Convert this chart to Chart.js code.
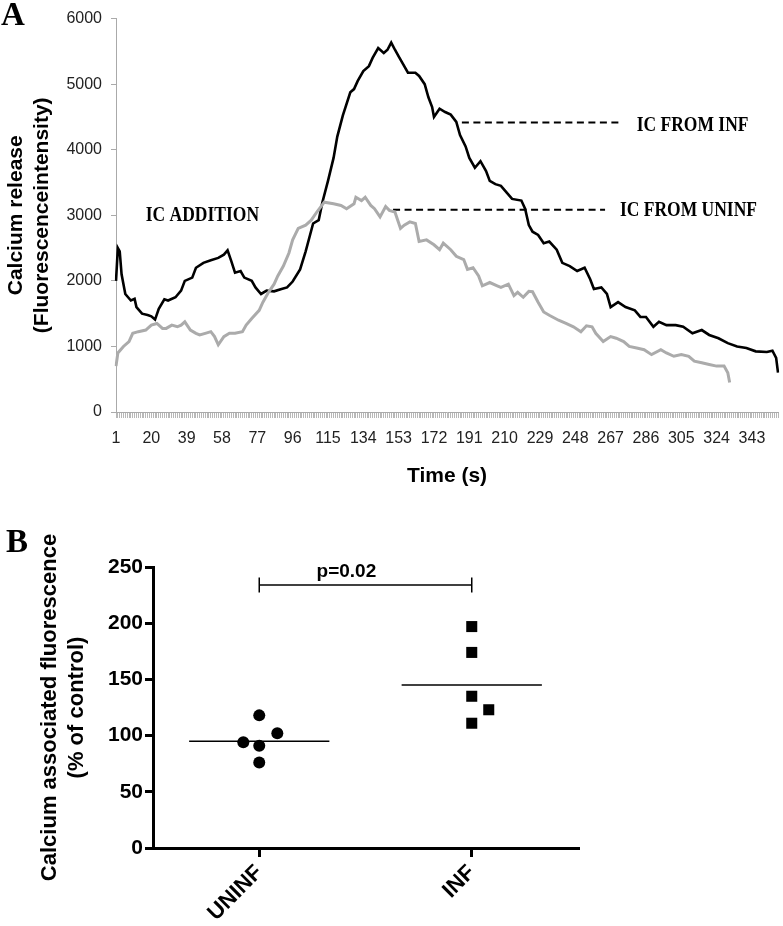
<!DOCTYPE html>
<html><head><meta charset="utf-8">
<script src="https://cdn.jsdelivr.net/npm/chart.js@4.4.1/dist/chart.umd.min.js"></script>
<style>
html,body{margin:0;padding:0;background:#fff;}
#wrap{position:relative;width:783px;height:926px;overflow:hidden;}
#cA{position:absolute;left:0;top:0;}
#cB{position:absolute;left:0;top:490px;}
</style></head><body>
<div id="wrap"><canvas id="cA" width="783" height="490"></canvas><canvas id="cB" width="783" height="436"></canvas></div>
<script>
// ---------- Panel A data ----------
const timeLabels = Array.from({length: 357}, (_, i) => i + 1);
const shownTimeTicks = [1,20,39,58,77,96,115,134,153,172,191,210,229,248,267,286,305,324,343];

const infTime = [1,2,3,4,6,9,11,12,15,18,20,22,24,27,29,33,36,38,42,44,48,52,56,59,61,63,65,68,70,74,76,79,82,86,90,93,96,100,103,107,110,112,115,118,120,123,127,129,131,134,137,139,142,145,147,149,151,153,155,158,162,164,167,169,171,172,175,178,181,184,186,189,191,194,197,200,202,205,208,211,214,219,221,223,225,228,231,234,238,241,245,249,253,256,258,262,265,267,271,275,280,283,286,290,293,297,302,306,311,316,320,325,330,335,340,345,351,354,356,357];
const infValue = [2000,2500,2450,2100,1800,1700,1725,1600,1500,1480,1460,1410,1575,1720,1700,1750,1850,2000,2050,2200,2275,2315,2350,2400,2465,2300,2125,2150,2050,2000,1900,1800,1850,1840,1875,1900,1990,2175,2450,2875,2925,3200,3525,3875,4200,4525,4875,4925,5050,5200,5275,5400,5550,5475,5525,5635,5525,5425,5325,5175,5175,5125,5000,4800,4650,4500,4625,4575,4535,4425,4225,4050,3875,3725,3825,3675,3525,3475,3450,3350,3250,3225,3100,2850,2750,2700,2575,2600,2475,2275,2225,2150,2200,2025,1875,1900,1800,1600,1675,1600,1550,1450,1450,1300,1375,1325,1325,1300,1200,1250,1175,1125,1050,1000,975,925,915,935,825,600];

const uninfTime = [1,2,5,8,10,13,17,20,23,26,28,31,34,36,38,41,44,46,49,52,54,56,59,62,65,69,71,74,78,80,83,86,88,91,94,96,99,103,106,109,113,118,122,125,129,130,133,135,138,140,143,146,148,151,154,156,159,162,164,168,172,175,177,181,184,188,190,193,196,198,202,206,208,212,215,217,220,223,225,228,231,234,239,243,247,251,254,257,259,263,267,270,274,277,281,285,289,294,297,301,305,309,312,316,320,324,328,330,331];
const uninfValue = [700,900,1000,1075,1200,1225,1250,1325,1350,1275,1275,1325,1300,1325,1375,1250,1200,1175,1200,1225,1150,1025,1150,1200,1200,1225,1325,1425,1550,1675,1825,1950,2075,2225,2425,2625,2800,2850,2925,3050,3200,3175,3150,3100,3175,3275,3225,3275,3150,3100,2975,3135,3075,3050,2800,2850,2900,2875,2600,2625,2550,2475,2575,2475,2375,2325,2175,2200,2075,1925,1975,1925,1900,1950,1775,1825,1750,1840,1835,1675,1525,1475,1400,1350,1300,1225,1315,1300,1200,1075,1150,1125,1075,1000,975,950,875,950,900,850,875,850,775,750,725,700,700,600,450];

// reference (dashed) lines and annotation labels, in data coordinates
const refLineInfTime = [187, 273];     const refLineInfValue = 4415;
const refLineUninfTime = [150, 264];   const refLineUninfValue = 3085;
const annotTexts = ['IC ADDITION', 'IC FROM INF', 'IC FROM UNINF'];
const annotTime = [17, 281, 272];
const annotValue = [3000, 4375, 3070];

// ---------- Panel B data ----------
const groups = ['UNINF', 'INF'];
const uninfPoints = [118, 102, 94, 91, 76];
const infPoints = [197, 174, 135, 123, 111];
const uninfJitter = [0, 0.085, -0.075, 0, 0];
const infJitter = [0, 0, 0, 0.08, 0];
const groupMeans = [95, 145];
const meanHalfWidth = 0.33;
const bracketValue = 234;
const pText = 'p=0.02';

const zip = (ts, vs) => ts.map((t, i) => ({x: t, y: vs[i]}));
const SANS = 'Liberation Sans, Arial, sans-serif';
const SERIF = 'Liberation Serif, Times New Roman, serif';

const annotA = {
  id: 'annotA',
  afterDatasetsDraw(chart) {
    const {ctx, scales: {x, y}} = chart;
    ctx.save();
    ctx.fillStyle = '#000';
    ctx.font = 'bold 17.5px ' + SERIF;
    ctx.textBaseline = 'middle';
    ctx.textAlign = 'left';
    annotTexts.forEach((txt, i) => {
      const px = x.getPixelForValue(timeLabels.indexOf(annotTime[i]));
      const py = y.getPixelForValue(annotValue[i]);
      ctx.save();
      ctx.translate(px, py);
      ctx.scale(1, 1.2);
      ctx.fillText(txt, 0, 0);
      ctx.restore();
    });
    ctx.font = 'bold 33px ' + SERIF;
    ctx.textBaseline = 'alphabetic';
    ctx.fillText('A', 1, 25);
    ctx.restore();
  }
};

new Chart(document.getElementById('cA'), {
  type: 'line',
  data: {
    labels: timeLabels,
    datasets: [
      {data: zip(uninfTime, uninfValue), borderColor: '#ababab', borderWidth: 3, pointRadius: 0, tension: 0},
      {data: zip(infTime, infValue), borderColor: '#000', borderWidth: 2.6, pointRadius: 0, tension: 0},
      {data: refLineInfTime.map(t => ({x: t, y: refLineInfValue})), borderColor: '#000', borderWidth: 2, borderDash: [7, 4.5], pointRadius: 0},
      {data: refLineUninfTime.map(t => ({x: t, y: refLineUninfValue})), borderColor: '#000', borderWidth: 2, borderDash: [7, 4.5], pointRadius: 0}
    ]
  },
  options: {
    responsive: false, animation: false, events: [],
    layout: {padding: {left: 0, right: 5, top: 12, bottom: 0}},
    plugins: {legend: {display: false}, tooltip: {enabled: false}},
    scales: {
      x: {
        type: 'category', offset: false,
        grid: {display: true, drawOnChartArea: false, drawTicks: true, tickLength: 6, color: '#b8b8b8', lineWidth: 1},
        border: {display: true, color: '#aaa', width: 1},
        ticks: {
          autoSkip: false, maxRotation: 0, minRotation: 0, padding: 11,
          font: {family: SANS, size: 16}, color: '#222',
          callback: (v, i) => shownTimeTicks.includes(timeLabels[i]) ? String(timeLabels[i]) : ''
        },
        title: {display: true, text: 'Time (s)', color: '#000',
          font: {family: SANS, size: 21, weight: 'bold', lineHeight: 1.2}, padding: {top: 0, bottom: 1}},
        afterFit(s) { s.height = 78; s.paddingLeft = 0; s.paddingRight = 0; }
      },
      y: {
        min: 0, max: 6000,
        ticks: {stepSize: 1000, padding: 9, font: {family: SANS, size: 16}, color: '#222',
          callback: v => String(v)},
        grid: {drawOnChartArea: false, tickLength: 5, color: '#aaa'},
        border: {color: '#aaa', width: 1},
        title: {display: true, text: ['Calcium release', '(Fluorescenceintensity)'], color: '#000',
          font: {family: SANS, size: 21, weight: 'bold', lineHeight: 1.24}, padding: {top: 3, bottom: 0}},
        afterFit(s) { s.width = 116; }
      }
    }
  },
  plugins: [annotA]
});

const annotB = {
  id: 'annotB',
  afterDatasetsDraw(chart) {
    const {ctx, scales: {x, y}} = chart;
    ctx.save();
    ctx.fillStyle = '#000';
    ctx.font = 'bold 19px ' + SANS;
    ctx.textAlign = 'center';
    ctx.textBaseline = 'alphabetic';
    ctx.fillText(pText, x.getPixelForValue(0.41), y.getPixelForValue(241));
    ctx.textAlign = 'left';
    ctx.font = 'bold 33px ' + SERIF;
    ctx.fillText('B', 6, 62);
    ctx.restore();
  }
};

new Chart(document.getElementById('cB'), {
  type: 'scatter',
  data: {
    datasets: [
      {data: uninfPoints.map((v, i) => ({x: 0 + uninfJitter[i], y: v})), pointStyle: 'circle', pointRadius: 6, backgroundColor: '#000', borderWidth: 0},
      {data: infPoints.map((v, i) => ({x: 1 + infJitter[i], y: v})), pointStyle: 'rect', pointRadius: 7.8, backgroundColor: '#000', borderWidth: 0},
      {data: [{x: -meanHalfWidth, y: groupMeans[0]}, {x: meanHalfWidth, y: groupMeans[0]}], showLine: true, pointRadius: 0, borderColor: '#000', borderWidth: 1.5},
      {data: [{x: 1 - meanHalfWidth, y: groupMeans[1]}, {x: 1 + meanHalfWidth, y: groupMeans[1]}], showLine: true, pointRadius: 0, borderColor: '#000', borderWidth: 1.5},
      {data: [{x: 0, y: bracketValue}, {x: 1, y: bracketValue}], showLine: true, borderColor: '#000', borderWidth: 1.5,
        pointStyle: 'line', pointRotation: 90, pointRadius: 7.5, pointBorderColor: '#000', pointBorderWidth: 1.5}
    ]
  },
  options: {
    responsive: false, animation: false, events: [],
    layout: {padding: {left: 0, right: 205, top: 77, bottom: 0}},
    plugins: {legend: {display: false}, tooltip: {enabled: false}},
    scales: {
      x: {
        type: 'linear', min: -0.5, max: 1.5,
        afterBuildTicks(s) { s.ticks = groups.map((g, i) => ({value: i})); },
        ticks: {callback: (v, i) => groups[i], minRotation: 45, maxRotation: 45, padding: 3,
          font: {family: SANS, size: 22, weight: 'bold'}, color: '#000'},
        grid: {drawOnChartArea: false, tickLength: 9, lineWidth: 3, color: '#000'},
        border: {color: '#000', width: 3},
        afterFit(s) { s.height = 78; }
      },
      y: {
        min: 0, max: 250,
        ticks: {stepSize: 50, padding: 2, font: {family: SANS, size: 21, weight: 'bold'}, color: '#000'},
        grid: {drawOnChartArea: false, tickLength: 8, lineWidth: 3, color: '#000'},
        border: {color: '#000', width: 3},
        title: {display: true, text: ['Calcium associated fluorescence', '(% of control)'], color: '#000',
          font: {family: SANS, size: 22, weight: 'bold', lineHeight: 1.227}, padding: {top: 36.5, bottom: 0}},
        afterFit(s) { s.width = 153; }
      }
    }
  },
  plugins: [annotB]
});
</script>
</body></html>
